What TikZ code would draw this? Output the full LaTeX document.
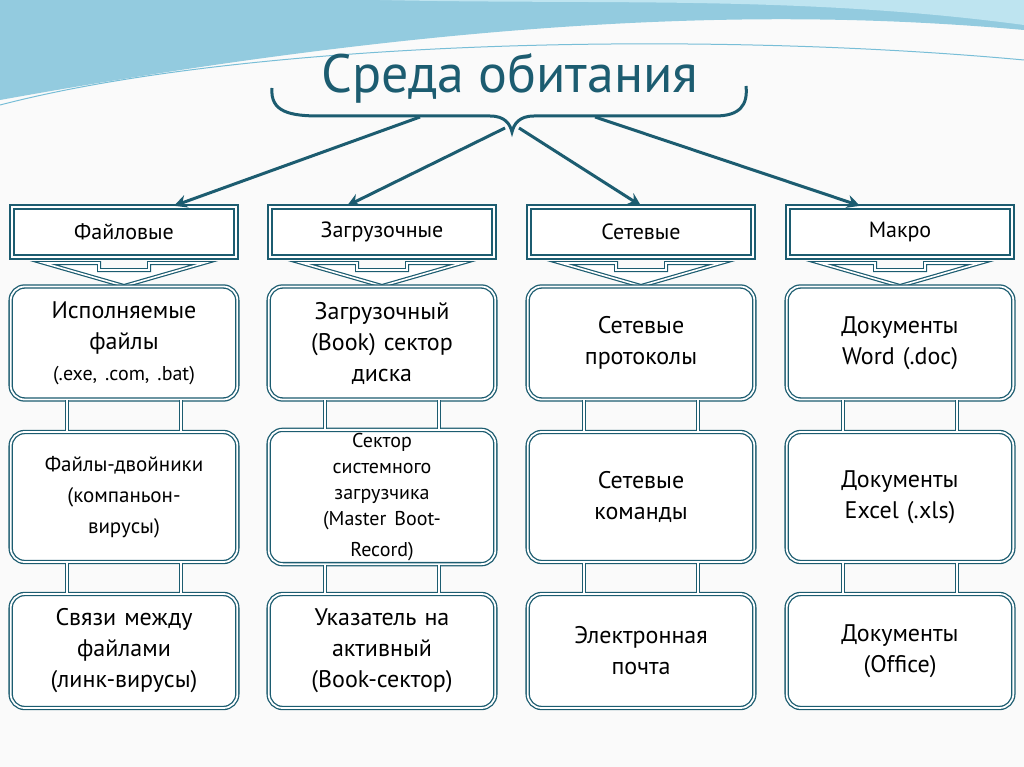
\documentclass[tikz,border=0pt]{standalone}
\usepackage{fontspec}
\setmainfont{PT Sans}
\usetikzlibrary{arrows.meta}
\definecolor{deepteal}{RGB}{28,92,112}
\definecolor{skyband}{RGB}{120,190,215}
\definecolor{paleband}{RGB}{190,228,240}

\tikzset{
  cell/.style={draw=deepteal, double=white, double distance=1.8pt, line width=1.3pt,
    rounded corners=14pt, fill=white, minimum width=226pt, text width=220pt,
    align=center, font=\fontsize{24}{31}\selectfont},
  head/.style={draw=deepteal, double=white, double distance=1.8pt, line width=2.4pt,
    fill=white, minimum width=224pt, minimum height=50pt, font=\fontsize{22}{24}\selectfont},
  link/.style={draw=deepteal, double=white, double distance=1.8pt, line width=1.2pt},
  feed/.style={deepteal, line width=3pt, -{Stealth[length=13pt,width=13pt]}},
}

\begin{document}
\begin{tikzpicture}[x=1pt, y=-1pt]
  \useasboundingbox (0,0) rectangle (1024,767);
  \fill[white!96!gray] (0,0) rectangle (1024,767);
  % wave at the top
  \fill[skyband!80!white] (0,0) -- (1024,0) -- (1024,30) .. controls (800,10) and (500,10) .. (0,100) -- cycle;
  \fill[paleband] (380,0) -- (1024,0) -- (1024,25) .. controls (800,-5) and (600,5) .. (380,0) -- cycle;
  \draw[skyband, line width=1pt] (0,105) .. controls (250,40) and (700,30) .. (1024,60);

  % title and brace
  \node[font=\fontsize{54}{58}\selectfont, text=deepteal] (title) at (510,78) {Среда обитания};
  \draw[deepteal, line width=3pt] (272,88) .. controls (270,112) and (290,116) .. (320,116)
    -- (490,116) .. controls (505,116) and (510,124) .. (512,132)
    .. controls (514,124) and (519,116) .. (534,116) -- (715,116)
    .. controls (740,116) and (748,105) .. (746,86);
  \coordinate (b1) at (420,117);
  \coordinate (b2) at (505,128);
  \coordinate (b3) at (519,128);
  \coordinate (b4) at (595,117);

  % headers
  \node[head] (h1) at (124,232) {Файловые};
  \node[head] (h2) at (382,232) {Загрузочные};
  \node[head] (h3) at (641,232) {Сетевые};
  \node[head] (h4) at (900,232) {Макро};

  \draw[feed] (b1) -- ([xshift=50pt]h1.north);
  \draw[feed] (b2) -- ([xshift=-35pt]h2.north);
  \draw[feed] (b3) -- (h3.north);
  \draw[feed] (b4) -- ([xshift=-40pt]h4.north);

  % chevrons under the headers
  \foreach \c in {124,382,641,900} {
    \draw[deepteal, double=white, double distance=1.6pt, line width=1.2pt, fill=white]
      (\c-80,263) -- (\c-25,263) -- (\c-25,270) -- (\c+25,270) -- (\c+25,263)
      -- (\c+80,263) -- (\c,286) -- cycle;
  }

  % rows
  \node[cell, minimum height=113pt] (f1) at (124,343) {Исполняемые\\файлы\\{\fontsize{20}{26}\selectfont(.exe, .com, .bat)}};
  \node[cell, minimum height=130pt] (f2) at (124,497) {\fontsize{21}{31}\selectfont Файлы-двойники\\(компаньон-\\вирусы)};
  \node[cell, minimum height=114pt] (f3) at (124,651) {Связи между\\файлами\\(линк-вирусы)};

  \node[cell, minimum height=113pt] (z1) at (382,343) {Загрузочный\\(Book) сектор\\диска};
  \node[cell, minimum height=130pt] (z2) at (382,497) {\fontsize{20}{26}\selectfont Сектор\\системного\\загрузчика\\(Master Boot-\\Record)};
  \node[cell, minimum height=114pt] (z3) at (382,651) {Указатель на\\активный\\(Book-сектор)};

  \node[cell, minimum height=113pt] (s1) at (641,343) {Сетевые\\протоколы};
  \node[cell, minimum height=130pt] (s2) at (641,497) {Сетевые\\команды};
  \node[cell, minimum height=114pt] (s3) at (641,651) {Электронная\\почта};

  \node[cell, minimum height=113pt] (m1) at (900,343) {Документы\\Word (.doc)};
  \node[cell, minimum height=130pt] (m2) at (900,497) {Документы\\Excel (.xls)};
  \node[cell, minimum height=114pt] (m3) at (900,651) {Документы\\(Office)};

  % double connectors between rows
  \foreach \k in {f,z,s,m} {
    \draw[link] ([xshift=-57pt]\k1.south) -- ([xshift=-57pt]\k2.north);
    \draw[link] ([xshift=57pt]\k1.south) -- ([xshift=57pt]\k2.north);
    \draw[link] ([xshift=-57pt]\k2.south) -- ([xshift=-57pt]\k3.north);
    \draw[link] ([xshift=57pt]\k2.south) -- ([xshift=57pt]\k3.north);
  }
\end{tikzpicture}
\end{document}
